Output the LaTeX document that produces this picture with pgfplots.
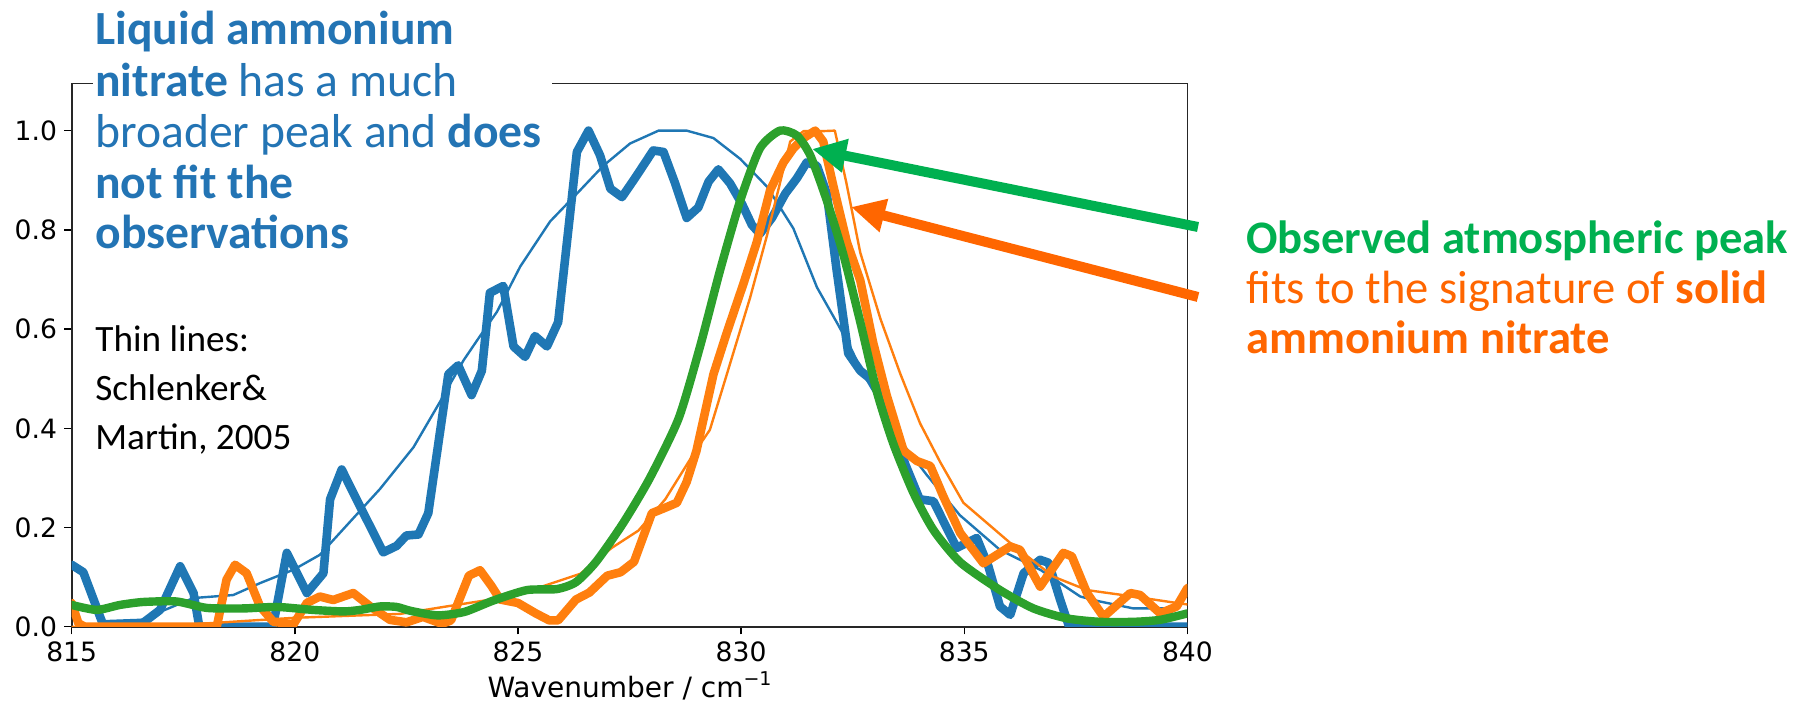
\documentclass[border=0pt]{standalone}
\usepackage{pgfplots}
\pgfplotsset{compat=1.18}
\usepackage{fontspec}
\setmainfont{Carlito}
\newfontfamily\tickfont{DejaVu Sans}
\usetikzlibrary{arrows.meta}
\definecolor{mblue}{HTML}{1F77B4}
\definecolor{morange}{HTML}{FF7F0E}
\definecolor{mgreen}{HTML}{2CA02C}
\definecolor{tblue}{HTML}{2374B4}
\definecolor{tgreen}{HTML}{00B050}
\definecolor{torange}{HTML}{FF6600}
\begin{document}
\begin{tikzpicture}
\useasboundingbox (0,0) rectangle (909pt,352pt);
\begin{axis}[
  scale only axis, width=557.85pt, height=271.65pt,
  at={(35.85pt,38.6pt)}, anchor=south west,
  xmin=815, xmax=840, ymin=0, ymax=1.095,
  xtick={815,820,825,830,835,840},
  ytick={0,0.2,0.4,0.6,0.8,1.0},
  yticklabel style={/pgf/number format/.cd, fixed, fixed zerofill, precision=1},
  /pgf/number format/assume math mode=true,
  tick label style={font=\tickfont\fontsize{13.3}{15}\selectfont, text=black},
  tick pos=left, tick align=outside, major tick length=3.8pt,
  tick style={black, line width=0.7pt},
  axis line style={black!85, line width=0.8pt},
  xlabel={Wavenumber / cm\raisebox{0.45em}{\fontsize{9.5}{9.5}\selectfont −1}},
  xlabel style={font=\tickfont\fontsize{14}{16}\selectfont, at={(axis description cs:0.5,0)}, anchor=base, yshift=-35.6pt},
  every axis plot/.append style={line join=round, line cap=round},
]
% thick blue: liquid ammonium nitrate (measured)
\addplot[mblue, line width=4.3pt] coordinates {
(815,0.125)(815.26,0.11)(815.7,0.005)(816.6,0.008)(816.98,0.034)(817.43,0.122)(817.73,0.068)(817.86,0.0)(819.5,0.0)(819.55,0.02)(819.82,0.149)(820.27,0.068)(820.64,0.108)(820.79,0.257)(821.05,0.317)(821.46,0.243)(821.98,0.15)(822.28,0.163)(822.5,0.184)(822.77,0.186)(822.99,0.229)(823.44,0.509)(823.66,0.527)(823.96,0.467)(824.19,0.516)(824.37,0.673)(824.67,0.687)(824.9,0.565)(825.16,0.544)(825.38,0.586)(825.65,0.565)(825.9,0.614)(826.32,0.957)(826.58,1.0)(826.84,0.95)(827.07,0.883)(827.33,0.866)(827.62,0.904)(828.03,0.96)(828.26,0.957)(828.52,0.894)(828.78,0.824)(829.04,0.845)(829.27,0.897)(829.49,0.922)(829.75,0.894)(830.02,0.852)(830.24,0.81)(830.42,0.792)(830.69,0.824)(830.99,0.873)(831.25,0.904)(831.47,0.936)(831.7,0.929)(831.92,0.873)(832.14,0.719)(832.4,0.551)(832.67,0.516)(832.96,0.495)(833.19,0.46)(833.41,0.397)(833.68,0.327)(834.0,0.257)(834.31,0.253)(834.83,0.159)(835.28,0.179)(835.54,0.122)(835.8,0.041)(836.03,0.024)(836.33,0.108)(836.7,0.135)(836.89,0.129)(837.15,0.054)(837.35,0.0)(840,0.0)
};
% thin blue: Schlenker & Martin liquid
\addplot[mblue, line width=1.2pt] coordinates {
(815.5,0.0)(816.46,0.01)(816.9,0.027)(817.73,0.058)(818.62,0.064)(819.22,0.088)(819.97,0.115)(820.56,0.145)(821.91,0.278)(822.66,0.362)(823.25,0.453)(823.78,0.537)(824.15,0.586)(824.53,0.635)(825.05,0.726)(825.72,0.817)(826.32,0.873)(826.91,0.929)(827.51,0.974)(828.15,1.0)(828.78,1.0)(829.38,0.985)(829.98,0.943)(830.58,0.887)(831.17,0.803)(831.7,0.684)(832.14,0.614)(832.44,0.565)(832.74,0.509)(833.11,0.453)(833.56,0.376)(834.16,0.306)(834.9,0.225)(835.8,0.155)(836.7,0.115)(837.6,0.061)(838.04,0.051)(838.79,0.037)(839.54,0.037)
};
% thick orange: solid ammonium nitrate (measured)
\addplot[morange, line width=4.3pt] coordinates {
(815,0.048)(815.15,0.007)(815.3,0.0)(818.25,0.0)(818.47,0.095)(818.66,0.125)(818.92,0.108)(819.22,0.041)(819.52,0.01)(819.97,0.005)(820.27,0.048)(820.56,0.061)(820.86,0.054)(821.31,0.068)(821.69,0.041)(822.13,0.014)(822.5,0.009)(822.87,0.02)(823.3,0.006)(823.5,0.013)(823.9,0.103)(824.15,0.114)(824.4,0.083)(824.6,0.055)(825.0,0.048)(825.4,0.027)(825.7,0.013)(825.9,0.013)(826.3,0.055)(826.6,0.069)(827.0,0.103)(827.3,0.11)(827.6,0.131)(828.0,0.229)(828.3,0.24)(828.56,0.25)(828.78,0.292)(829.0,0.355)(829.38,0.509)(829.68,0.593)(830.05,0.691)(830.35,0.775)(830.65,0.88)(830.95,0.936)(831.17,0.964)(831.4,0.985)(831.66,1.0)(831.84,0.978)(832.07,0.887)(832.37,0.775)(832.67,0.698)(832.96,0.572)(833.26,0.467)(833.64,0.355)(833.94,0.334)(834.24,0.324)(834.53,0.263)(834.91,0.189)(835.43,0.128)(836.03,0.162)(836.25,0.155)(836.7,0.081)(837.22,0.149)(837.41,0.142)(837.75,0.068)(838.12,0.02)(838.72,0.068)(838.94,0.064)(839.39,0.027)(839.76,0.041)(840,0.078)
};
% thin orange: Schlenker & Martin solid
\addplot[morange, line width=1.2pt] coordinates {
(815,0.0)(817.7,0.005)(819.97,0.018)(822.36,0.026)(823.4,0.041)(824.9,0.062)(825.6,0.083)(826.4,0.107)(827.1,0.159)(827.7,0.194)(828.3,0.257)(828.93,0.348)(829.3,0.397)(829.68,0.509)(830.2,0.663)(830.58,0.789)(830.87,0.894)(831.1,0.978)(831.4,0.999)(831.84,0.999)(832.1,1.0)(832.36,0.894)(832.67,0.754)(833.12,0.621)(833.57,0.509)(834.01,0.41)(834.46,0.332)(834.98,0.25)(836.03,0.169)(837.0,0.101)(837.75,0.074)(838.79,0.061)(839.76,0.048)(840,0.045)
};
% green: observed atmospheric peak
\addplot[mgreen, line width=4.2pt, smooth, tension=0.4] coordinates {
(815,0.044)(815.56,0.034)(816.08,0.044)(816.6,0.05)(817.35,0.051)(818.03,0.038)(818.85,0.037)(819.6,0.04)(820.41,0.034)(821.09,0.031)(821.46,0.034)(821.91,0.041)(822.28,0.04)(822.6,0.032)(823.2,0.023)(823.8,0.03)(824.45,0.053)(825.2,0.074)(825.87,0.076)(826.3,0.09)(826.75,0.131)(827.35,0.208)(827.95,0.299)(828.6,0.42)(829.08,0.565)(829.53,0.719)(829.98,0.859)(830.42,0.964)(830.87,1.0)(831.25,0.99)(831.55,0.95)(831.92,0.859)(832.3,0.747)(832.67,0.614)(833.04,0.474)(833.41,0.369)(833.86,0.27)(834.31,0.195)(834.91,0.13)(835.8,0.074)(836.55,0.037)(837.3,0.017)(838.04,0.01)(838.79,0.01)(839.39,0.014)(840,0.027)
};
\end{axis}
% white box hiding the top spine behind the text
\fill[white] (46.5pt,303pt) rectangle (276pt,318pt);
% arrows
\draw[tgreen, line width=5pt, -{Triangle[length=17pt,width=16pt]}] (599pt,238.5pt) -- (406pt,277.5pt);
\draw[torange, line width=5pt, -{Triangle[length=17pt,width=16pt]}] (599pt,203.5pt) -- (425.5pt,248.5pt);
% blue text
\begin{scope}[every node/.style={anchor=base west, inner sep=0pt, text=tblue, font=\fontsize{23.8}{25.5}\selectfont}]
\node at (47.5pt,329.5pt) {\textbf{Liquid ammonium}};
\node at (47.5pt,303.8pt) {\textbf{nitrate} has a much};
\node at (47.5pt,278.3pt) {broader peak and \textbf{does}};
\node at (47.5pt,252.8pt) {\textbf{not fit the}};
\node at (47.5pt,227.8pt) {\textbf{observations}};
\end{scope}
% black text
\begin{scope}[every node/.style={anchor=base west, inner sep=0pt, text=black, font=\fontsize{18.6}{22}\selectfont}]
\node at (47.5pt,176pt) {Thin lines:};
\node at (47.5pt,151.6pt) {Schlenker\&};
\node at (47.5pt,127.2pt) {Martin, 2005};
\end{scope}
% right text
\begin{scope}[every node/.style={anchor=base west, inner sep=0pt, font=\fontsize{23.3}{25.5}\selectfont}]
\node[text=tgreen] at (623pt,225pt) {\textbf{Observed atmospheric peak}};
\node[text=torange] at (623pt,200pt) {fits to the signature of \textbf{solid}};
\node[text=torange] at (623pt,175pt) {\textbf{ammonium nitrate}};
\end{scope}
\end{tikzpicture}
\end{document}
